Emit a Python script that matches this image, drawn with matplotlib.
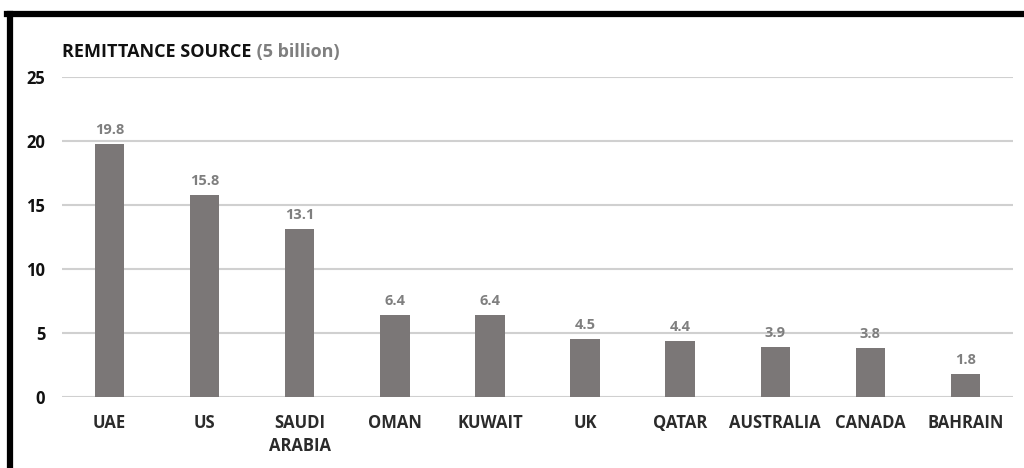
import matplotlib.pyplot as plt
from matplotlib.lines import Line2D

countries = ['UAE', 'US', 'SAUDI\nARABIA', 'OMAN', 'KUWAIT', 'UK', 'QATAR',
             'AUSTRALIA', 'CANADA', 'BAHRAIN']
amounts = [19.8, 15.8, 13.1, 6.4, 6.4, 4.5, 4.4, 3.9, 3.8, 1.8]
y_ticks = [0, 5, 10, 15, 20, 25]

bar_color = '#7b7777'
label_gray = '#7f7f7f'
font = 'Open Sans'

fig = plt.figure(figsize=(10.24, 4.68), dpi=100)
ax = fig.add_axes([62 / 1024, 1 - 397 / 468, (1013 - 62) / 1024, 320 / 468])

x = range(len(countries))
bars = ax.bar(x, amounts, width=0.31, color=bar_color, zorder=3)
for b, v in zip(bars, amounts):
    ax.annotate(f'{v}', (b.get_x() + b.get_width() / 2, v), xytext=(0, 5),
                textcoords='offset points', ha='center', va='bottom',
                fontsize=10.5, fontweight='bold', color=label_gray, family=font)

ax.set_xlim(-0.5, len(countries) - 0.5)
ax.set_ylim(0, 25)
ax.set_yticks(y_ticks)
ax.set_xticks(list(x))
ax.set_xticklabels(countries, family=font, fontweight='bold', fontsize=12,
                   color='#2b2b2b', linespacing=1.35, va='top')
ax.set_yticklabels([str(t) for t in y_ticks], family=font, fontweight='bold',
                   fontsize=12, color='#111111')
ax.tick_params(axis='both', length=0)
ax.tick_params(axis='x', pad=12)
ax.tick_params(axis='y', pad=12)
ax.grid(axis='y', color='#d0d0d0', linewidth=1.5, zorder=0)
for s in ax.spines.values():
    s.set_visible(False)

# title in two colours
t1 = fig.text(62 / 1024, 1 - 52 / 468, 'REMITTANCE SOURCE', family=font,
              fontweight='bold', fontsize=13, color='#111111', va='center')
ax.annotate(' (5 billion)', xy=(1, 0.5), xycoords=t1, va='center', ha='left',
            family=font, fontweight='bold', fontsize=13, color=label_gray)

# black frame (top and left edges visible)
fig.add_artist(Line2D([7 / 1024, 1], [1 - 14 / 468, 1 - 14 / 468],
                      color='black', linewidth=4.5, transform=fig.transFigure))
fig.add_artist(Line2D([10 / 1024, 10 / 1024], [0, 1 - 14 / 468],
                      color='black', linewidth=4.5, transform=fig.transFigure))

fig.savefig('out.png', dpi=100)
